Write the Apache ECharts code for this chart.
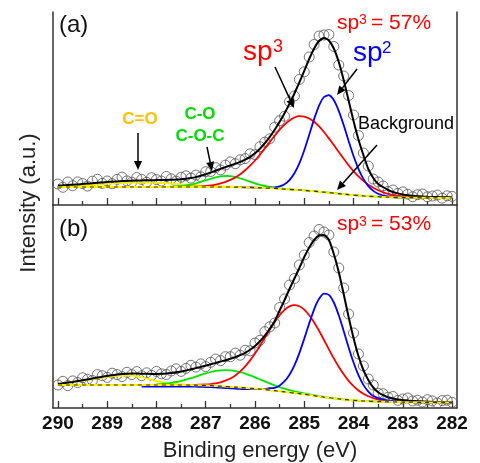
<!DOCTYPE html>
<html>
<head>
<meta charset="utf-8">
<title>C 1s XPS fits</title>
<script src="https://cdn.jsdelivr.net/npm/echarts@6/dist/echarts.min.js"></script>
<style>
  html, body { margin: 0; padding: 0; background: #fff; }
  #chart { width: 480px; height: 463px; }
</style>
</head>
<body>
<div id="chart"></div>
<script>
// binding energy (eV), shared by both spectra
const energy = [
  290, 289.9, 289.8, 289.7, 289.6, 289.5, 289.4, 289.3, 289.2, 289.1,
  289, 288.9, 288.8, 288.7, 288.6, 288.5, 288.4, 288.3, 288.2, 288.1,
  288, 287.9, 287.8, 287.7, 287.6, 287.5, 287.4, 287.3, 287.2, 287.1,
  287, 286.9, 286.8, 286.7, 286.6, 286.5, 286.4, 286.3, 286.2, 286.1,
  286, 285.9, 285.8, 285.7, 285.6, 285.5, 285.4, 285.3, 285.2, 285.1,
  285, 284.9, 284.8, 284.7, 284.6, 284.5, 284.4, 284.3, 284.2, 284.1,
  284, 283.9, 283.8, 283.7, 283.6, 283.5, 283.4, 283.3, 283.2, 283.1,
  283, 282.9, 282.8, 282.7, 282.6, 282.5, 282.4, 282.3, 282.2, 282.1,
  282
];
const majorTicks = [290, 289, 288, 287, 286, 285, 284, 283, 282];
const minorTicks = [289.5, 288.5, 287.5, 286.5, 285.5, 284.5, 283.5, 282.5];

// ---- panel (a) ----
const aData = [
  21.0, 17.7, 23.0, 19.3, 23.1, 21.5, 18.9, 23.8, 25.7, 21.6,
  24.0, 21.3, 25.6, 27.9, 24.1, 22.8, 27.5, 25.6, 22.7, 27.3,
  25.4, 24.0, 28.6, 26.2, 23.9, 27.7, 29.2, 26.9, 29.9, 28.2,
  33.3, 33.5, 37.3, 35.1, 39.9, 43.1, 41.3, 45.2, 46.4, 51.2,
  50.3, 58.3, 62.8, 66.2, 77.8, 84.2, 88.8, 103.2, 109.0, 125.6,
  133.2, 148.0, 160.5, 169.0, 170.0, 170.5, 158.5, 140.0, 129.0, 109.5,
  90.0, 69.5, 52.0, 39.0, 26.0, 23.0, 19.0, 13.5, 15.0, 11.6,
  13.1, 10.8, 8.2, 10.3, 11.0, 8.2, 9.0, 9.9, 6.8, 9.2,
  8.6
];
const aFit = [
  19.5, 19.7, 20.0, 20.3, 20.6, 21.0, 21.4, 21.8, 22.2, 22.6,
  23.0, 23.3, 23.6, 23.9, 24.1, 24.3, 24.5, 24.6, 24.7, 24.8,
  24.9, 25.0, 25.1, 25.2, 25.4, 25.7, 26.2, 26.9, 27.9, 29.2,
  30.8, 32.5, 34.3, 36.1, 37.9, 39.6, 41.3, 43.2, 45.4, 48.2,
  51.8, 56.3, 61.8, 68.2, 75.3, 83.2, 91.8, 101.2, 111.5, 122.6,
  134.2, 146.0, 156.5, 164.0, 167.0, 164.5, 156.5, 143.0, 125.0, 104.5,
  84.0, 65.5, 50.0, 36.0, 27.0, 21.0, 18.0, 15.0, 13.0, 11.6,
  10.6, 9.8, 9.2, 8.8, 8.5, 8.2, 8.0, 7.9, 7.8, 7.7,
  7.6
];
const aSp3 = [
  18, 18, 18, 18, 18, 18, 18, 18, 18, 18,
  18, 18, 18, 18, 18, 18, 18, 18, 18, 18,
  18, 18, 18, 18, 18, 18.1, 18.2, 18.3, 18.4, 18.7,
  19.1, 19.6, 20.4, 21.6, 23.1, 25.1, 27.6, 30.8, 34.7, 39.3,
  44.5, 50.3, 56.6, 63.1, 69.3, 75.3, 80.5, 84.6, 87.5, 88.8,
  88.4, 86.5, 83.2, 78.6, 73.0, 66.6, 59.9, 53.0, 46.2, 39.8,
  33.9, 28.7, 24.1, 20.3, 17.2, 14.7, 12.7, 11.2, 10.0, 9.1,
  8.5, 8.1, 7.7, 7.6, 7.4, 7.3, 7.1, 7.1, 7.0, 7.0,
  7.0
];
const aSp2 = [
  null, null, null, null, null, null, null, null, null, null,
  null, null, null, null, null, null, null, null, null, null,
  null, null, 18, 18, 18, 18, 18, 18, 18, 18,
  18, 18, 18, 18, 18, 18, 17.9, 17.8, 17.7, 17.6,
  17.4, 17.2, 17.2, 17.3, 17.6, 18.6, 20.8, 24.9, 31.7, 41.6,
  54.7, 70.1, 85.9, 99.4, 108.0, 109.8, 104.8, 94.2, 79.9, 64.1,
  49.0, 36.1, 26.1, 18.9, 14.1, 11.2, 9.5, 8.5, 8.0, 7.7,
  7.5, 7.4, 7.3, 7.3, 7.2, 7.2, 7.1, 7.1, 7.0, 7.0,
  7.0
];
const aCO = [
  null, null, null, null, null, null, null, null, null, null,
  null, null, null, null, null, null, null, null, null, null,
  null, null, 18.0, 18.3, 18.6, 19.0, 19.6, 20.5, 21.7, 23.1,
  24.7, 26.2, 27.6, 28.6, 29.0, 28.8, 27.9, 26.6, 25.0, 23.3,
  21.6, 20.2, 19.0, 18.0, 17.2, 16.6, 16.1, 15.7, 15.3, 15.0,
  14.6, 14.2, 13.8, 13.3, 12.8, 12.3, 11.8, 11.3, 10.8, 10.3,
  9.9, 9.5, 9.1, 8.8, 8.5, 8.3, 8.1, 7.9, 7.7, 7.6,
  7.5, 7.4, 7.3, 7.3, 7.2, 7.2, 7.1, 7.1, 7.0, 7.0,
  7.0
];
const aCdO = [
  18.5, 18.6, 18.8, 19.0, 19.2, 19.5, 19.8, 20.1, 20.4, 20.7,
  21.1, 21.4, 21.7, 22.0, 22.2, 22.4, 22.5, 22.5, 22.5, 22.4,
  22.2, 22.0, 21.7, 21.4, 21.1, 20.7, 20.4, 20.1, 19.8, 19.5,
  19.2, 19.0, 18.8, 18.6, 18.5, 18.4, 18.2, 18.0, 17.8, 17.7,
  17.5
];
const aBg = [
  18, 18, 18, 18, 18, 18, 18, 18, 18, 18,
  18, 18, 18, 18, 18, 18, 18, 18, 18, 18,
  18, 18, 18, 18, 18, 18, 18, 18, 18, 18,
  18, 18, 18, 18, 18, 18, 17.9, 17.8, 17.7, 17.6,
  17.4, 17.2, 17.0, 16.8, 16.5, 16.2, 15.9, 15.6, 15.3, 15.0,
  14.6, 14.2, 13.8, 13.3, 12.8, 12.3, 11.8, 11.3, 10.8, 10.3,
  9.9, 9.5, 9.1, 8.8, 8.5, 8.3, 8.1, 7.9, 7.7, 7.6,
  7.5, 7.4, 7.3, 7.3, 7.2, 7.2, 7.1, 7.1, 7.0, 7.0,
  7.0
];

// ---- panel (b) ----
const bData = [
  23.0, 26.7, 22.4, 27.1, 25.4, 30.2, 28.6, 27.5, 33.4, 32.3,
  30.6, 34.8, 33.4, 31.4, 35.7, 33.4, 36.4, 32.3, 35.2, 32.6,
  36.6, 34.2, 33.5, 37.0, 39.2, 36.6, 39.6, 42.7, 40.9, 44.1,
  41.4, 45.7, 49.0, 47.4, 51.3, 51.3, 54.9, 52.8, 57.7, 57.2,
  65.0, 67.7, 76.4, 81.2, 85.0, 100.5, 109.0, 123.0, 129.5, 143.0,
  153.0, 165.5, 172.0, 178.5, 176.0, 173.0, 156.0, 140.0, 120.0, 94.0,
  75.0, 54.0, 42.0, 29.0, 23.0, 14.8, 14.3, 10.8, 11.5, 7.6,
  9.0, 10.0, 7.1, 7.8, 6.0, 8.3, 7.1, 5.0, 7.4, 7.8,
  5.7
];
const bFit = [
  24.0, 24.7, 25.4, 26.1, 26.9, 27.7, 28.6, 29.5, 30.4, 31.3,
  32.1, 32.8, 33.4, 33.9, 34.2, 34.4, 34.4, 34.3, 34.2, 34.1,
  34.1, 34.2, 34.5, 35.0, 35.7, 36.6, 37.6, 38.7, 39.9, 41.1,
  42.4, 43.7, 45.0, 46.4, 47.8, 49.3, 50.9, 52.8, 55.2, 58.2,
  62.0, 66.7, 72.4, 79.2, 87.0, 97.5, 108.0, 119.0, 129.5, 140.0,
  151.0, 160.5, 168.0, 172.5, 173.0, 168.0, 154.0, 136.0, 114.0, 91.0,
  70.0, 52.0, 38.0, 28.0, 20.5, 15.8, 12.8, 10.8, 9.5, 8.6,
  8.0, 7.5, 7.1, 6.8, 6.5, 6.3, 6.1, 6.0, 5.9, 5.8,
  5.7
];
const bSp3 = [
  23, 23, 23, 23, 23, 23, 23, 23, 23, 23,
  23, 23, 23, 23, 23, 23, 23, 23, 23, 23,
  23, 23, 23, 23, 23, 23.1, 23.1, 23.1, 23.2, 23.3,
  23.5, 23.9, 24.6, 25.7, 27.3, 29.5, 32.6, 36.6, 41.6, 47.6,
  54.5, 62.1, 70.2, 78.4, 86.1, 92.8, 98.1, 101.6, 102.8, 101.7,
  98.4, 92.8, 85.6, 77.2, 68.0, 58.7, 49.6, 41.2, 33.7, 27.2,
  21.9, 17.5, 14.2, 11.7, 9.9, 8.5, 7.6, 7.0, 6.6, 6.3,
  6.1, 5.9, 5.8, 5.7, 5.7, 5.6, 5.6, 5.6, 5.5, 5.5,
  5.5
];
const bSp2 = [
  null, null, null, null, null, null, null, null, null, null,
  null, null, null, null, null, null, null, 21.5, 21.5, 21.5,
  21.5, 21.5, 21.5, 21.5, 21.5, 21.5, 21.5, 21.4, 21.3, 21.2,
  21.0, 20.8, 20.6, 20.3, 20.0, 19.7, 19.4, 19.1, 18.8, 18.8,
  18.8, 18.9, 19.1, 19.8, 20.1, 22.5, 26.8, 33.3, 42.6, 54.9,
  69.4, 84.6, 98.7, 109.2, 114.4, 113.1, 105.5, 92.7, 77.1, 60.6,
  45.5, 32.8, 23.1, 16.4, 11.9, 9.9, 8.5, 7.5, 6.9, 6.5,
  6.2, 6.0, 5.8, 5.7, 5.7, 5.6, 5.6, 5.6, 5.5, 5.5,
  5.5
];
const bCO = [
  null, null, null, null, null, null, null, null, null, null,
  null, null, null, null, null, null, null, null, null, null,
  23.6, 24.0, 24.5, 25.2, 26.0, 27.1, 28.4, 29.8, 31.4, 33.1,
  34.6, 36.0, 37.1, 37.7, 37.9, 37.6, 36.9, 35.9, 34.4, 32.6,
  30.7, 28.6, 26.6, 24.6, 22.6, 20.9, 19.3, 17.8, 16.6, 15.5,
  14.5, 13.5, 12.7, 11.8, 11.0, 10.3, 9.7, 9.1, 8.6, 8.1,
  7.7, 7.3, 7.0, 6.8, 6.6, 6.4, 6.3, 6.2, 6.1, 6.0,
  5.9, 5.8, 5.8, 5.7, 5.7, 5.6, 5.6, 5.6, 5.5, 5.5,
  5.5
];
const bCdO = [
  24.3, 24.8, 25.3, 25.8, 26.5, 27.2, 28.0, 28.8, 29.6, 30.4,
  31.1, 31.7, 32.1, 32.4, 32.5, 32.3, 31.6, 30.7, 29.5, 28.2,
  27.0, 26.0, 25.1, 24.4, 23.9, 23.5, 23.3, 23.1, 22.9, 22.7
];
const bBg = [
  23, 23, 23, 23, 23, 23, 23, 23, 23, 23,
  23, 23, 23, 23, 23, 23, 23, 23, 23, 23,
  23, 23, 23, 23, 23, 23, 23, 22.9, 22.8, 22.7,
  22.5, 22.3, 22.1, 21.8, 21.5, 21.2, 20.9, 20.6, 20.2, 19.8,
  19.4, 18.9, 18.4, 17.9, 17.3, 16.7, 16.1, 15.5, 14.9, 14.3,
  13.7, 13.0, 12.3, 11.6, 10.9, 10.3, 9.7, 9.1, 8.6, 8.1,
  7.7, 7.3, 7.0, 6.8, 6.6, 6.4, 6.3, 6.2, 6.1, 6.0,
  5.9, 5.8, 5.8, 5.7, 5.7, 5.6, 5.6, 5.6, 5.5, 5.5,
  5.5
];

const FONT = '"Liberation Sans", Arial, sans-serif';
const AXIS = '#333';

const pairs = arr => energy.map((e, i) => arr[i] == null ? null : [e, arr[i]]).filter(p => p);

function xMain(gridIndex, showLabel) {
  return {
    type: 'value', gridIndex: gridIndex, position: 'bottom',
    min: 281.9, max: 290.1, inverse: true,
    axisLine: { show: true, onZero: false, lineStyle: { color: AXIS, width: 1.5 } },
    axisTick: { show: true, inside: true, length: 7, customValues: majorTicks, lineStyle: { color: AXIS, width: 1.3 } },
    axisLabel: {
      show: showLabel, customValues: majorTicks, margin: 6,
      color: '#111', fontSize: 19, fontWeight: 'bold', fontFamily: FONT
    },
    splitLine: { show: false }
  };
}
function xMinor(gridIndex) {
  return {
    type: 'value', gridIndex: gridIndex, position: 'bottom',
    min: 281.9, max: 290.1, inverse: true,
    axisLine: { show: false },
    axisTick: { show: true, inside: true, length: 4, customValues: minorTicks, lineStyle: { color: AXIS, width: 1.3 } },
    axisLabel: { show: false },
    splitLine: { show: false }
  };
}
function yAx(gridIndex, position, max) {
  return {
    type: 'value', gridIndex: gridIndex, position: position, min: 0, max: max,
    axisLine: { show: true, onZero: false, lineStyle: { color: AXIS, width: 1.5 } },
    axisTick: { show: false }, axisLabel: { show: false }, splitLine: { show: false }
  };
}

function curve(arr, xi, yi, color, width, dash) {
  return {
    type: 'line', xAxisIndex: xi, yAxisIndex: yi, data: pairs(arr),
    showSymbol: false, smooth: 0.2, silent: true,
    lineStyle: { color: color, width: width, type: dash || 'solid' }
  };
}
function points(arr, xi, yi) {
  return {
    type: 'scatter', xAxisIndex: xi, yAxisIndex: yi, data: pairs(arr),
    symbol: 'circle', symbolSize: 10, silent: true,
    itemStyle: { color: 'rgba(255,255,255,0)', borderColor: '#555', borderWidth: 1 }
  };
}
function panelSeries(d, fit, sp3, sp2, co, cdo, bg, xi, yi) {
  return [
    points(d, xi, yi),
    curve(cdo, xi, yi, '#FFEE00', 1.8),
    curve(co, xi, yi, '#00E600', 1.8),
    curve(sp3, xi, yi, '#FF0000', 1.8),
    curve(sp2, xi, yi, '#0000FF', 1.8),
    curve(fit, xi, yi, '#000000', 2),
    curve(bg, xi, yi, '#FFEE00', 2),
    curve(bg, xi, yi, '#333300', 1.2, [4, 4])
  ];
}

function label(text, x, y, size, color, opts) {
  opts = opts || {};
  return {
    type: 'text', x: x, y: y, z: 100, rotation: opts.rotation || 0,
    style: {
      text: text, fill: color,
      font: (opts.bold ? 'bold ' : '') + size + 'px ' + FONT,
      align: opts.align || 'left', verticalAlign: 'middle'
    }
  };
}
function arrow(x1, y1, x2, y2) {
  const dx = x2 - x1, dy = y2 - y1, len = Math.hypot(dx, dy);
  const ux = dx / len, uy = dy / len, L = 9, W = 4;
  const bx = x2 - ux * L, by = y2 - uy * L;
  return [
    { type: 'line', z: 100, shape: { x1: x1, y1: y1, x2: bx, y2: by }, style: { stroke: '#000', lineWidth: 1.5 } },
    { type: 'polygon', z: 100, shape: { points: [[x2, y2], [bx - uy * W, by + ux * W], [bx + uy * W, by - ux * W]] }, style: { fill: '#000' } }
  ];
}

const graphics = [
  label('(a)', 59, 25, 24, '#111'),
  label('(b)', 59, 229, 24, '#111'),
  label('sp', 337, 23, 21, '#FF0000'),
  label('3', 359, 20, 14, '#FF0000'),
  label('= 57%', 371, 23, 21, '#FF0000'),
  label('sp', 337, 224, 21, '#FF0000'),
  label('3', 359, 222, 14, '#FF0000'),
  label('= 53%', 371, 224, 21, '#FF0000'),
  label('sp', 243, 52, 28, '#FF0000'),
  label('3', 273, 47, 18, '#FF0000'),
  label('sp', 353, 53, 28, '#0000FF'),
  label('2', 382, 48, 17, '#0000FF'),
  label('Background', 358, 124, 18, '#000'),
  label('C=O', 140, 119, 17, '#FFC000', { bold: true, align: 'center' }),
  label('C-O', 200, 114, 17, '#00DD00', { bold: true, align: 'center' }),
  label('C-O-C', 200, 136, 17, '#00DD00', { bold: true, align: 'center' }),
  label('Intensity (a.u.)', 28.5, 203, 22, '#222', { align: 'center', rotation: Math.PI / 2 }),
  label('Binding energy (eV)', 260, 450.5, 22, '#222', { align: 'center' })
].concat(
  arrow(138, 133, 138, 170),
  arrow(207, 147, 212, 171),
  arrow(275, 67, 294, 108),
  arrow(357, 69, 337, 95),
  arrow(377, 145, 337, 190)
);

const chart = echarts.init(document.getElementById('chart'));
chart.setOption({
  animation: false,
  backgroundColor: '#fff',
  grid: [
    { left: 53, right: 23, top: 12, height: 193 },
    { left: 53, right: 23, top: 205, height: 203 }
  ],
  xAxis: [xMain(0, false), xMinor(0), xMain(1, true), xMinor(1)],
  yAxis: [yAx(0, 'left', 193), yAx(0, 'right', 193), yAx(1, 'left', 203), yAx(1, 'right', 203)],
  series: panelSeries(aData, aFit, aSp3, aSp2, aCO, aCdO, aBg, 0, 0)
    .concat(panelSeries(bData, bFit, bSp3, bSp2, bCO, bCdO, bBg, 2, 2)),
  graphic: { elements: graphics }
});
</script>
</body>
</html>
